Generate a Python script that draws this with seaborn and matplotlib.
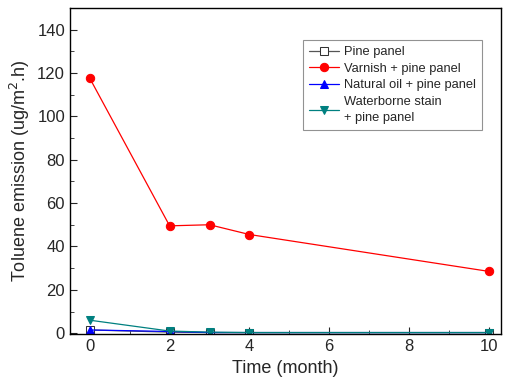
import matplotlib
matplotlib.use("Agg")
import matplotlib.pyplot as plt
import seaborn as sns
import pandas as pd
from matplotlib.ticker import MultipleLocator

# === DATA ===
months = [0, 2, 3, 4, 10]
pine = [1.5, 0.5, 0.3, 0.3, 0.3]
varnish = [117.5, 49.5, 50.0, 45.5, 28.5]
natural_oil = [1.5, 0.8, 0.3, 0.3, 0.3]
waterborne = [6.0, 1.0, 0.5, 0.3, 0.3]

labels = ["Pine panel", "Varnish + pine panel", "Natural oil + pine panel",
          "Waterborne stain\n+ pine panel"]

df = pd.DataFrame({
    "Time": months * 4,
    "Emission": pine + varnish + natural_oil + waterborne,
    "Series": sum([[l] * len(months) for l in labels], []),
})

sns.set_style("ticks")
plt.rcParams['font.family'] = ['Liberation Sans', 'DejaVu Sans']

fig, ax = plt.subplots(figsize=(5.1, 3.91), dpi=100)

palette = {labels[0]: "#555555", labels[1]: "#ff0000",
           labels[2]: "#0000ff", labels[3]: "#008080"}
markers = {labels[0]: "s", labels[1]: "o", labels[2]: "^", labels[3]: "v"}

for lab in labels:
    sub = df[df["Series"] == lab]
    mfc = "white" if lab == labels[0] else palette[lab]
    sns.lineplot(data=sub, x="Time", y="Emission", ax=ax, color=palette[lab],
                 marker=markers[lab], markersize=6, markerfacecolor=mfc,
                 markeredgecolor=palette[lab] if lab != labels[0] else "#333333",
                 linewidth=0.9, label=lab)

ax.set_xlim(-0.5, 10.3)
ax.set_ylim(-0.5, 150)
ax.set_xticks([0, 2, 4, 6, 8, 10])
ax.set_yticks([0, 20, 40, 60, 80, 100, 120, 140])
ax.xaxis.set_minor_locator(MultipleLocator(1))
ax.yaxis.set_minor_locator(MultipleLocator(10))
ax.tick_params(which="both", direction="in", top=False, right=False, labelsize=12)
ax.tick_params(which="major", length=5)
ax.tick_params(which="minor", length=3)
for s in ax.spines.values():
    s.set_visible(True)
    s.set_linewidth(1.0)
    s.set_color("black")

ax.set_xlabel("Time (month)", fontsize=13)
ax.set_ylabel("Toluene emission (ug/m$^2$.h)", fontsize=13)

leg = ax.legend(loc="upper right", bbox_to_anchor=(0.957, 0.902), fontsize=9.3,
                frameon=True, fancybox=False, edgecolor="#777777",
                handlelength=2.3, borderpad=0.5, labelspacing=0.35,
                handletextpad=0.4, borderaxespad=0)
leg.get_frame().set_linewidth(0.8)
for t in leg.get_texts():
    t.set_linespacing(1.45)

fig.subplots_adjust(left=0.137, right=0.982, top=0.98, bottom=0.145)
fig.savefig("out.png", dpi=100)
